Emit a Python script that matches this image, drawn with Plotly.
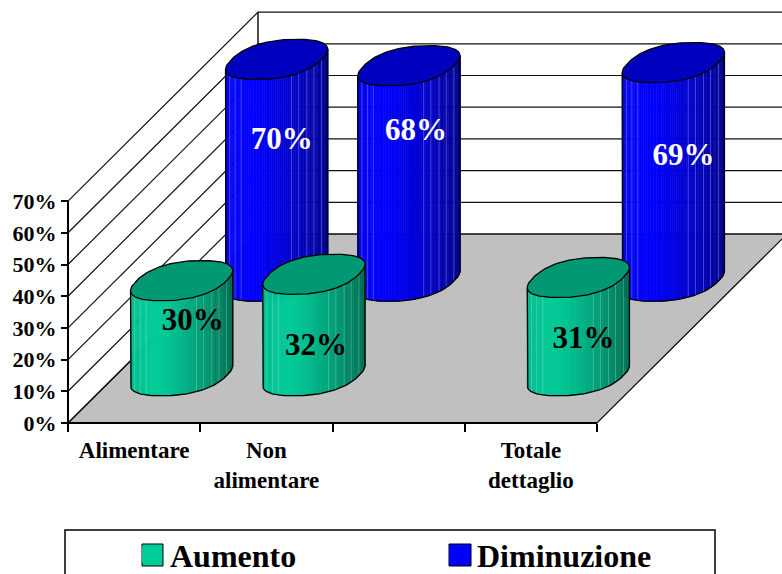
import math
import plotly.graph_objects as go

# Chart data
categories = ["Alimentare", "Non<br>alimentare", "", "Totale<br>dettaglio"]
aumento = [30, 32, None, 31]
diminuzione = [70, 68, None, 69]
value_ticks = [0, 10, 20, 30, 40, 50, 60, 70]

# Page geometry: pixels per unit and where the plot origin falls
W, H = 782, 574
ORIGIN_PX = (68, 423)
PX_PER_CAT = 132.25
PX_PER_PCT = 3.17
DEPTH_X = 190 / PX_PER_CAT   # shift of the back wall, in category units
DEPTH_Y = 189 / PX_PER_PCT   # shift of the back wall, in percent units

# Cylinder shape
RX = 45 / PX_PER_CAT
RD = 0.106
ROUNDNESS = 0.85             # below 1 gives the rim fuller shoulders
N_RIM = 144
STRIPES = [0.04, 0.1, 0.15, 0.64, 0.72, 0.8, 0.87, 0.94]

# Per-bar label nudges relative to the top centre, in pixels (right, down)
OFFS_AUMENTO = [(11, 42), (2, 73), None, (5, 63)]
OFFS_DIMINUZIONE = [(5, 82), (7, 67), None, (10, 95)]

SERIF = "Liberation Serif"
GREEN = (0, 204, 153)
BLUE = (0, 0, 255)

# Legend swatch boxes, in pixels from the top left: (left, right, top, bottom)
SWATCH_PX = [(142, 163, 544, 566), (449, 471, 544, 566)]


def project(cat, depth, value):
    return cat + depth * DEPTH_X, value + depth * DEPTH_Y


def scaled(rgb, k):
    return "rgb(%d,%d,%d)" % tuple(round(c * k) for c in rgb)


def shade(f):
    return 0.93 + 0.07 * f / 0.25 if f < 0.25 else 1 - 0.45 * ((f - 0.25) / 0.75) ** 1.3


def soft(v):
    return math.copysign(abs(v) ** ROUNDNESS, v)


def rim(cx, cy, t):
    c, s = soft(math.cos(t)), soft(math.sin(t))
    return cx + RX * c + RD * DEPTH_X * s, cy + RD * DEPTH_Y * s


fig = go.Figure()


def poly(xs, ys, fill=None, line="black", width=1.0, mode="lines"):
    fig.add_trace(go.Scatter(
        x=xs, y=ys, mode=mode, showlegend=False, hoverinfo="skip",
        fill="toself" if fill else None, fillcolor=fill,
        line=dict(color=line, width=width),
    ))


def cylinder(cat, depth, value, rgb):
    cx, base = project(cat, depth, 0)
    top = base + value

    # Walk the front of the rim between its left-most and right-most points
    angles = [2 * math.pi * i / N_RIM for i in range(N_RIM)]
    i_left = min(range(N_RIM), key=lambda i: rim(cx, 0, angles[i])[0])
    i_right = max(range(N_RIM), key=lambda i: rim(cx, 0, angles[i])[0])
    steps = (i_right - i_left) % N_RIM
    ts = [angles[(i_left + k) % N_RIM] for k in range(steps + 1)]
    x_min = rim(cx, 0, ts[0])[0]
    x_max = rim(cx, 0, ts[-1])[0]

    # Curved side, built from narrow vertical facets
    for a, b in zip(ts, ts[1:]):
        xa, ya = rim(cx, top, a)
        xb, yb = rim(cx, top, b)
        xc, yc = rim(cx, base, b)
        xd, yd = rim(cx, base, a)
        f = ((xa + xb) / 2 - x_min) / (x_max - x_min)
        colour = scaled(rgb, shade(f))
        poly([xa, xb, xc, xd, xa], [ya, yb, yc, yd, ya], fill=colour, line=colour, width=0.6)

    # Faint highlights between facets
    sx, sy = [], []
    for frac in STRIPES:
        t = min(ts, key=lambda v: abs((rim(cx, 0, v)[0] - x_min) / (x_max - x_min) - frac))
        x1, y1 = rim(cx, top, t)
        x2, y2 = rim(cx, base, t)
        sx += [x1, x2, None]
        sy += [y1, y2, None]
    poly(sx, sy, line="rgba(190,255,235,0.28)" if rgb == GREEN else "rgba(120,120,255,0.55)", width=1)

    # Silhouette: sides and lower rim
    lower = [rim(cx, base, t) for t in ts]
    lx, ly = rim(cx, top, ts[0])
    rx, ry = rim(cx, top, ts[-1])
    poly([lx] + [p[0] for p in lower] + [rx], [ly] + [p[1] for p in lower] + [ry], width=1.3)

    # Top cap
    cap = [rim(cx, top, t) for t in angles + angles[:1]]
    poly([p[0] for p in cap], [p[1] for p in cap], fill=scaled(rgb, 0.75), width=1.3)


# Side wall, back wall and floor
xf0, yf0 = project(0, 0, 0)
xf1, yf1 = project(4, 0, 0)
xb0, yb0 = project(0, 1, 0)
xb1, yb1 = project(4, 1, 0)
poly([xf0, xf1, xb1, xb0, xf0], [yf0, yf1, yb1, yb0, yf0], fill="#C0C0C0", width=1.2)

top_v = value_ticks[-1]
for v in value_ticks:
    xa, ya = project(0, 0, v)
    xb, yb = project(0, 1, v)
    xc, yc = project(4, 1, v)
    poly([xa, xb, xc], [ya, yb, yc], line="#111111", width=1.2)
xb_top, yb_top = project(0, 1, top_v)
poly([xb0, xb_top], [yb0, yb_top], width=1.4)
poly([xf0, xf0], [0, top_v], width=2)
poly([xf0, xf1], [0, 0], width=2)

# Back row first so the front row overlaps it
for series, rgb, depth in ((diminuzione, BLUE, 0.75), (aumento, GREEN, 0.25)):
    for i, val in enumerate(series):
        if val is not None:
            cylinder(i + 0.5, depth, val, rgb)

# Value labels
for series, offs, depth, colour in ((diminuzione, OFFS_DIMINUZIONE, 0.75, "white"),
                                    (aumento, OFFS_AUMENTO, 0.25, "black")):
    xs, ys, txt = [], [], []
    for i, (val, off) in enumerate(zip(series, offs)):
        if val is None:
            continue
        cx, base = project(i + 0.5, depth, 0)
        xs.append(cx + off[0] / PX_PER_CAT)
        ys.append(base + val - off[1] / PX_PER_PCT)
        txt.append(f"{val}%")
    fig.add_trace(go.Scatter(
        x=xs, y=ys, text=txt, mode="text", textposition="middle center", showlegend=False,
        hoverinfo="skip", textfont=dict(family=SERIF, size=31, color=colour, weight="bold"),
    ))

# Legend entries
legend_colours = [("Aumento", GREEN), ("Diminuzione", BLUE)]
for name, rgb in legend_colours:
    fig.add_trace(go.Scatter(
        x=[None], y=[None], mode="markers", name=name,
        marker=dict(symbol="square", size=16, color=scaled(rgb, 1), line=dict(width=0)),
    ))

shapes = [dict(
    type="rect", xref="paper", yref="paper", layer="below",
    x0=65 / W, x1=715 / W, y0=-0.02, y1=1 - 530 / H,
    line=dict(color="black", width=1.5), fillcolor="white",
)]
for (x0, x1, y0, y1), (_, rgb) in zip(SWATCH_PX, legend_colours):
    shapes.append(dict(
        type="rect", xref="paper", yref="paper", layer="above",
        x0=x0 / W, x1=x1 / W, y0=1 - y1 / H, y1=1 - y0 / H,
        line=dict(color="black", width=1), fillcolor=scaled(rgb, 1),
    ))

fig.update_layout(
    width=W, height=H, margin=dict(l=0, r=0, t=0, b=0, autoexpand=False),
    paper_bgcolor="white", plot_bgcolor="white", autosize=False,
    xaxis=dict(
        range=[-ORIGIN_PX[0] / PX_PER_CAT, (W - ORIGIN_PX[0]) / PX_PER_CAT],
        domain=[0, 1], anchor="free", position=(H - ORIGIN_PX[1]) / H,
        showgrid=False, zeroline=False, showline=False, fixedrange=True,
        tickmode="array", tickvals=[i + 0.5 for i in range(len(categories))],
        ticktext=categories, ticks="", ticklabelstandoff=11, tickangle=0,
        tickfont=dict(family=SERIF, size=23, color="black", weight="bold"),
        minor=dict(tickmode="array", tickvals=list(range(len(categories) + 1)),
                   ticks="outside", ticklen=8, tickwidth=1.5, tickcolor="black", showgrid=False),
    ),
    yaxis=dict(
        range=[-(H - ORIGIN_PX[1]) / PX_PER_PCT, ORIGIN_PX[1] / PX_PER_PCT],
        domain=[0, 1], anchor="free", position=ORIGIN_PX[0] / W,
        showgrid=False, zeroline=False, showline=False, fixedrange=True,
        tickmode="array", tickvals=value_ticks, ticktext=[f"{v}%" for v in value_ticks],
        ticks="outside", ticklen=7, tickwidth=1.5, tickcolor="black",
        tickfont=dict(family=SERIF, size=22, color="black", weight="bold"),
    ),
    legend=dict(
        orientation="h", x=130 / W, xanchor="left", y=1 - 527 / H, yanchor="top",
        bgcolor="rgba(0,0,0,0)", borderwidth=0, itemclick=False, itemdoubleclick=False,
        entrywidth=262, entrywidthmode="pixels",
        font=dict(family=SERIF, size=32, color="black", weight="bold"),
    ),
    shapes=shapes,
)

fig.write_html("out.html", config={"displayModeBar": False})
